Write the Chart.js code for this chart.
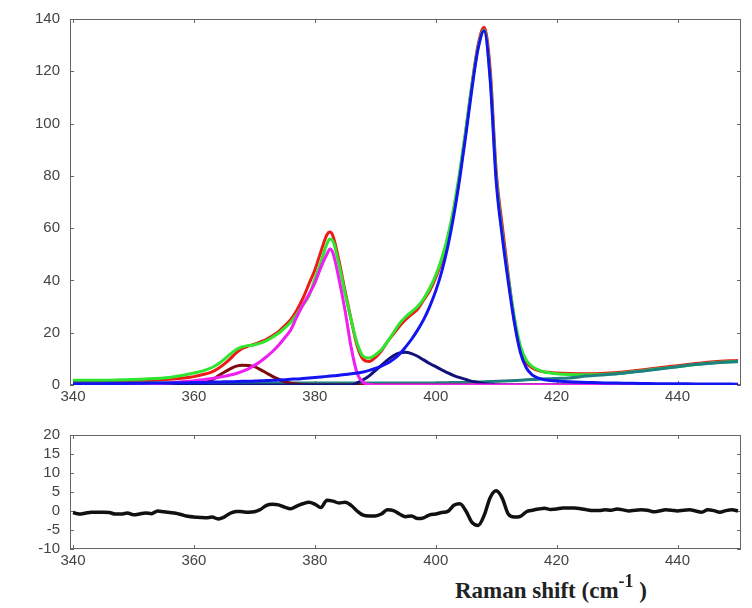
<!DOCTYPE html>
<html>
<head>
<meta charset="utf-8">
<script src="https://cdn.jsdelivr.net/npm/chart.js@4.4.1/dist/chart.umd.min.js"></script>
<style>
  body { margin: 0; background: #fff; width: 752px; height: 608px; position: relative; overflow: hidden; }
  #top-wrap { position: absolute; left: 0; top: 0; }
  #res-wrap { position: absolute; left: 0; top: 410px; }
  #xtitle { position: absolute; left: 455px; top: 578px; font: bold 23px "Liberation Serif", "Times New Roman", serif; color: #222; white-space: nowrap; }
  #xtitle sup { font-size: 18px; position: relative; top: -2px; vertical-align: super; line-height: 0; }
</style>
</head>
<body>
<div id="top-wrap"><canvas id="fit-chart" width="752" height="410"></canvas></div>
<div id="res-wrap"><canvas id="res-chart" width="752" height="165"></canvas></div>
<div id="xtitle">Raman shift (cm<sup>-1</sup> )</div>
<script>
// fitted Raman spectrum + residual

const ramanShift = [
  340, 344, 348, 352, 356, 358, 359, 360, 361, 362,
  363, 364, 365, 366, 367, 368, 369, 370, 371, 372,
  373, 374, 375, 376, 377, 378, 379, 380, 381, 382,
  382.5, 383, 384, 385, 386, 387, 388, 389, 390, 391,
  392, 393, 394, 395, 396, 397, 398, 399, 400, 401,
  402, 403, 404, 405, 406, 407, 408, 409, 410, 411,
  412, 413, 414, 415, 416, 417, 418, 419, 420, 422,
  425, 428, 431, 434, 437, 440, 443, 446, 450
];

const measured = [
  1.0, 1.0, 1.2, 1.6, 2.2, 2.6, 2.9, 3.2, 3.7, 4.3,
  5.0, 6.3, 8.0, 10.0, 12.3, 14.0, 14.9, 15.6, 16.5, 17.5,
  18.8, 20.4, 22.6, 25.0, 28.5, 33.0, 38.5, 44.0, 51.0, 57.5,
  58.5, 57.0, 47.5, 36.0, 25.0, 15.0, 9.8, 9.0, 10.5, 13.0,
  16.5, 19.5, 22.5, 25.0, 27.0, 29.0, 32.5, 36.0, 41.0, 47.5,
  56.0, 67.0, 81.0, 97.5, 115.0, 130.0, 136.8, 121.0, 82.0, 61.0,
  42.0, 25.0, 13.5, 8.5, 6.5, 5.5, 5.0, 4.8, 4.6, 4.4,
  4.3, 4.5, 5.0, 5.7, 6.6, 7.4, 8.2, 8.9, 9.4
];

const fitSum = [
  1.8, 1.8, 2.0, 2.3, 2.9, 3.6, 4.1, 4.6, 5.1, 5.8,
  6.7, 8.0, 9.8, 11.8, 13.6, 14.6, 15.1, 15.4, 16.0, 17.0,
  18.3, 19.8, 21.8, 24.0, 27.0, 30.5, 34.0, 40.5, 47.0, 54.0,
  55.8, 55.0, 46.0, 35.0, 25.0, 16.0, 11.0, 10.3, 11.5, 13.5,
  16.5, 20.0, 23.5, 26.0, 28.0, 30.0, 33.0, 37.0, 42.0, 48.5,
  57.0, 68.0, 82.0, 98.0, 115.0, 129.0, 135.8, 118.0, 80.0, 58.0,
  41.0, 26.0, 15.0, 9.5, 7.0, 5.8, 5.0, 4.6, 4.3, 4.0,
  3.9, 4.1, 4.6, 5.4, 6.2, 7.0, 7.8, 8.5, 9.0
];

const peak408 = [
  0.5, 0.5, 0.6, 0.7, 0.8, 0.9, 0.9, 1.0, 1.0, 1.0,
  1.1, 1.1, 1.2, 1.2, 1.3, 1.4, 1.4, 1.5, 1.6, 1.7,
  1.8, 1.9, 2.0, 2.2, 2.3, 2.5, 2.7, 2.9, 3.1, 3.3,
  3.4, 3.5, 3.7, 4.0, 4.3, 4.6, 5.0, 5.6, 6.3, 7.2,
  8.3, 9.8, 11.8, 14.5, 17.5, 21.0, 25.0, 30.0, 36.0, 43.5,
  53.0, 65.0, 79.5, 96.0, 113.5, 128.5, 135.5, 117.0, 78.0, 57.0,
  39.5, 24.0, 12.5, 6.5, 3.8, 2.6, 2.0, 1.7, 1.5, 1.2,
  1.0, 0.8, 0.7, 0.6, 0.5, 0.5, 0.4, 0.4, 0.3
];

const peak382 = [
  0, 0, 0.1, 0.3, 0.8, 1.2, 1.4, 1.6, 1.9, 2.2,
  2.5, 2.9, 3.3, 3.8, 4.4, 5.2, 6.2, 7.5, 9.0, 10.8,
  12.8, 15.2, 18.0, 21.0, 26.0, 30.5, 34.5, 39.0, 45.0, 50.0,
  52.0, 50.5, 40.5, 28.5, 14.5, 4.5, 1.0, 0.2, 0, 0,
  0, 0, 0, 0, 0, 0, 0, 0, 0, 0,
  0, 0, 0, 0, 0, 0, 0, 0, 0, 0,
  0, 0, 0, 0, 0, 0, 0, 0, 0, 0,
  0, 0, 0, 0, 0, 0, 0, 0, 0
];

const peak368 = [
  0, 0, 0, 0, 0, 0.1, 0.2, 0.3, 0.6, 1.0,
  2.0, 3.4, 4.9, 6.2, 7.2, 7.6, 7.5, 7.0, 5.9, 4.6,
  3.3, 2.2, 1.3, 0.7, 0.4, 0.2, 0.1, 0, 0, 0,
  0, 0, 0, 0, 0, 0, 0, 0, 0, 0,
  0, 0, 0, 0, 0, 0, 0, 0, 0, 0,
  0, 0, 0, 0, 0, 0, 0, 0, 0, 0,
  0, 0, 0, 0, 0, 0, 0, 0, 0, 0,
  0, 0, 0, 0, 0, 0, 0, 0, 0
];

const peak395 = [
  0, 0, 0, 0, 0, 0, 0, 0, 0, 0,
  0, 0, 0, 0, 0, 0, 0, 0, 0, 0,
  0, 0, 0, 0, 0, 0, 0, 0, 0, 0,
  0, 0, 0, 0, 0, 0.8, 2.0, 3.5, 5.5, 7.5,
  9.5, 11.2, 12.3, 12.5, 12.0, 11.0, 9.6, 8.2, 7.0, 5.8,
  4.6, 3.6, 2.8, 2.1, 1.4, 1.0, 0.6, 0.3, 0.1, 0,
  0, 0, 0, 0, 0, 0, 0, 0, 0, 0,
  0, 0, 0, 0, 0, 0, 0, 0, 0
];

const background = [
  0.8, 0.8, 0.8, 0.8, 0.8, 0.8, 0.8, 0.8, 0.8, 0.8,
  0.8, 0.8, 0.8, 0.8, 0.8, 0.8, 0.8, 0.8, 0.8, 0.8,
  0.8, 0.8, 0.8, 0.8, 0.8, 0.8, 0.8, 0.8, 0.8, 0.8,
  0.8, 0.8, 0.8, 0.8, 0.8, 0.8, 0.8, 0.8, 0.8, 0.8,
  0.8, 0.8, 0.8, 0.8, 0.8, 0.8, 0.8, 0.8, 0.8, 0.9,
  0.9, 1.0, 1.0, 1.0, 1.1, 1.1, 1.2, 1.3, 1.4, 1.5,
  1.6, 1.7, 1.8, 2.0, 2.1, 2.2, 2.3, 2.4, 2.5, 2.7,
  3.4, 3.9, 4.5, 5.3, 6.1, 7.0, 7.8, 8.4, 9.0
];

// residual, 1 cm-1 steps from 340 to 450
const residualX = [
  340, 341, 342, 343, 344, 345, 346, 347, 348, 349,
  350, 351, 352, 353, 354, 355, 356, 357, 358, 359,
  360, 361, 362, 363, 364, 365, 366, 367, 368, 369,
  370, 371, 372, 373, 374, 375, 376, 377, 378, 379,
  380, 381, 382, 383, 384, 385, 386, 387, 388, 389,
  390, 391, 392, 393, 394, 395, 396, 397, 398, 399,
  400, 401, 402, 403, 404, 405, 406, 407, 408, 409,
  410, 411, 412, 413, 414, 415, 416, 417, 418, 419,
  420, 421, 422, 423, 424, 425, 426, 427, 428, 429,
  430, 431, 432, 433, 434, 435, 436, 437, 438, 439,
  440, 441, 442, 443, 444, 445, 446, 447, 448, 449,
  450
];
const residual = [
  -0.4, -0.8, -0.6, -0.3, -0.3, -0.3, -0.4, -0.8, -0.8, -0.5,
  -1.0, -0.8, -0.5, -0.7, 0.0, -0.2, -0.4, -0.6, -1.0, -1.4,
  -1.6, -1.7, -1.8, -1.6, -2.1, -1.6, -0.6, -0.1, -0.2, -0.3,
  -0.2, 0.4, 1.5, 1.8, 1.6, 1.0, 0.6, 1.3, 1.9, 2.3,
  1.8, 0.9, 2.8, 2.6, 2.1, 2.3, 1.5, 0.0, -1.1, -1.3,
  -1.3, -0.8, 0.3, 0.1, -0.8, -1.5, -1.3, -2.0, -1.8, -1.0,
  -0.8, -0.4, -0.1, 1.5, 1.9, 0.0, -3.0, -3.8, -1.2, 3.5,
  5.3, 3.4, -0.8, -1.6, -1.4, -0.2, 0.2, 0.5, 0.7, 0.4,
  0.5, 0.8, 0.8, 0.8, 0.6, 0.3, 0.1, 0.1, 0.3, 0.2,
  0.5, 0.3, 0.0, 0.2, 0.3, 0.2, -0.2, 0.0, 0.3, 0.2,
  0.0, 0.2, 0.3, 0.0, -0.3, 0.3, 0.1, -0.3, 0.1, 0.3,
  0.0
];

const xTicks = [340, 360, 380, 400, 420, 440];
const fitTicks = [0, 20, 40, 60, 80, 100, 120, 140];
const resTicks = [-10, -5, 0, 5, 10, 15, 20];

const tickFont = { family: "'Liberation Sans Narrow', 'Arial Narrow', 'Liberation Sans', Arial, sans-serif", size: 15 };

function pts(xs, ys) {
  return xs.map((x, i) => ({ x: x, y: ys[i] }));
}

function line(label, ys, color, width) {
  return {
    label: label,
    data: pts(ramanShift, ys),
    borderColor: color,
    borderWidth: width || 3,
    pointRadius: 0,
    fill: false,
    cubicInterpolationMode: "monotone"
  };
}

// box with short inward ticks
const frame = {
  id: "frame",
  beforeDatasetsDraw(chart) {
    const { ctx, chartArea: a, scales } = chart;
    ctx.save();
    ctx.strokeStyle = "#666";
    ctx.lineWidth = 1;
    ctx.strokeRect(a.left + 0.5, a.top + 0.5, a.width - 1, a.height - 1);
    ctx.beginPath();
    scales.x.ticks.forEach(t => {
      const px = Math.round(scales.x.getPixelForValue(t.value)) + 0.5;
      ctx.moveTo(px, a.top); ctx.lineTo(px, a.top + 4);
      ctx.moveTo(px, a.bottom); ctx.lineTo(px, a.bottom - 4);
    });
    scales.y.ticks.forEach(t => {
      const py = Math.round(scales.y.getPixelForValue(t.value)) + 0.5;
      ctx.moveTo(a.left, py); ctx.lineTo(a.left + 4, py);
      ctx.moveTo(a.right, py); ctx.lineTo(a.right - 4, py);
    });
    ctx.stroke();
    ctx.restore();
  }
};

function xAxis(height) {
  return {
    type: "linear",
    min: 339.5,
    max: 450.5,
    grid: { display: false, drawTicks: false },
    border: { display: false },
    afterBuildTicks: s => { s.ticks = xTicks.map(v => ({ value: v })); },
    afterFit: s => { s.height = height; },
    ticks: { font: tickFont, color: "#444", padding: 3, maxRotation: 0, autoSkip: false }
  };
}

function yAxis(vals) {
  return {
    min: vals[0],
    max: vals[vals.length - 1],
    grid: { display: false, drawTicks: false },
    border: { display: false },
    afterBuildTicks: s => { s.ticks = vals.map(v => ({ value: v })); },
    afterFit: s => { s.width = 70; },
    ticks: { font: tickFont, color: "#444", padding: 10, autoSkip: false }
  };
}

Chart.defaults.animation = false;

new Chart(document.getElementById("fit-chart"), {
  type: "line",
  data: {
    datasets: [
      line("Peak 408", peak408, "#1414f0"),
      line("Peak 382", peak382, "#f01ef0"),
      line("Peak 395", peak395, "#12127a"),
      line("Peak 368", peak368, "#7e0c0c"),
      line("Background", background, "#1e8080"),
      line("Fit", fitSum, "#2ee62e"),
      line("Measured", measured, "#ee1a1a")
    ]
  },
  options: {
    responsive: false,
    layout: { padding: { top: 16, right: 11, left: 0, bottom: 0 } },
    scales: { x: xAxis(25), y: yAxis(fitTicks) },
    plugins: { legend: { display: false }, tooltip: { enabled: false } }
  },
  plugins: [frame]
});

new Chart(document.getElementById("res-chart"), {
  type: "line",
  data: {
    datasets: [{
      label: "Residual",
      data: pts(residualX, residual),
      borderColor: "#111",
      borderWidth: 3.5,
      pointRadius: 0,
      fill: false,
      cubicInterpolationMode: "monotone"
    }]
  },
  options: {
    responsive: false,
    layout: { padding: { top: 25, right: 11, left: 0, bottom: 0 } },
    scales: { x: xAxis(26), y: yAxis(resTicks) },
    plugins: { legend: { display: false }, tooltip: { enabled: false } }
  },
  plugins: [frame]
});
</script>
</body>
</html>
